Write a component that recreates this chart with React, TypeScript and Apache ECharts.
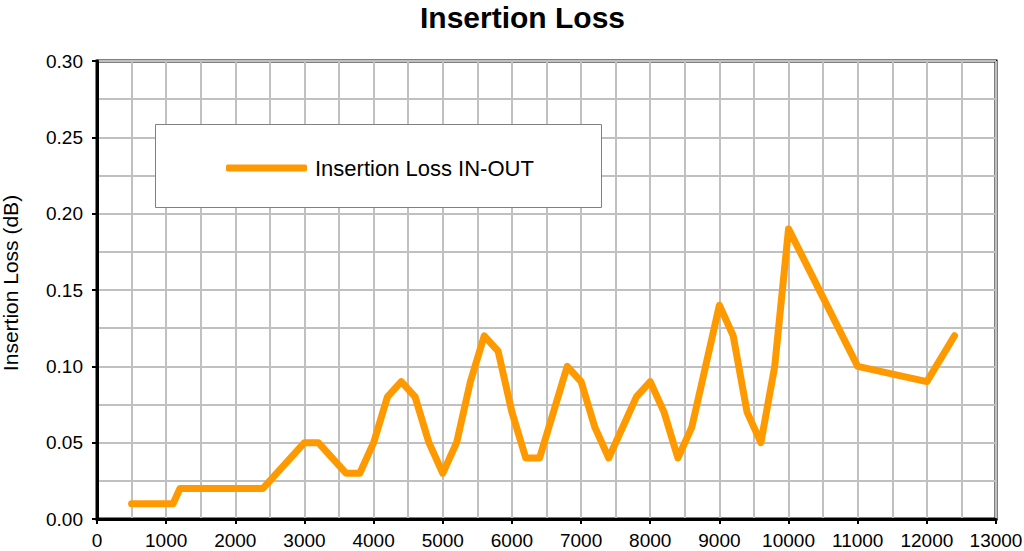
import React, { useEffect, useRef } from "react";
import * as echarts from "echarts";

// Frequency (x) and insertion loss (dB)
const frequencies: number[] = [
  500, 1100, 1200, 2400, 3000, 3200, 3600, 3800, 4000, 4200, 4400, 4600, 4800,
  5000, 5200, 5400, 5600, 5800, 6000, 6200, 6400, 6800, 7000, 7200, 7400, 7800,
  8000, 8200, 8400, 8600, 9000, 9200, 9400, 9600, 9800, 10000, 11000, 12000, 12400,
];
const lossValues: number[] = [
  0.01, 0.01, 0.02, 0.02, 0.05, 0.05, 0.03, 0.03, 0.05, 0.08, 0.09, 0.08, 0.05,
  0.03, 0.05, 0.09, 0.12, 0.11, 0.07, 0.04, 0.04, 0.1, 0.09, 0.06, 0.04, 0.08,
  0.09, 0.07, 0.04, 0.06, 0.14, 0.12, 0.07, 0.05, 0.1, 0.19, 0.1, 0.09, 0.12,
];
const seriesName = "Insertion Loss IN-OUT";

const FONT = "Liberation Sans, Arial, sans-serif";

const App: React.FC = () => {
  const chartRef = useRef<HTMLDivElement | null>(null);

  useEffect(() => {
    const chartDom = chartRef.current;
    if (!chartDom) return;
    const myChart = echarts.init(chartDom, undefined, { renderer: "svg" });

    const gridLine = { show: true, lineStyle: { color: "#c0c0c0", width: 2 } };

    const option = {
      animation: false,
      backgroundColor: "#fff",
      title: {
        text: "Insertion Loss",
        left: 420,
        top: 2,
        padding: 0,
        textStyle: { fontFamily: FONT, fontSize: 30, fontWeight: "bold", color: "#000", lineHeight: 30 },
      },
      grid: {
        left: 97,
        top: 61,
        right: 28,
        bottom: 32,
        outerBoundsMode: "none",
        containLabel: false,
        show: true,
        borderColor: "#000",
        borderWidth: 3,
        backgroundColor: "transparent",
      },
      legend: {
        left: 226,
        top: 157,
        padding: 0,
        z: 10,
        icon: "roundRect",
        itemWidth: 81,
        itemHeight: 7,
        data: [seriesName],
        textStyle: { fontFamily: FONT, fontSize: 22, color: "#000", padding: [0, 0, 0, 3] },
      },
      graphic: [
        {
          type: "rect",
          z: 5,
          shape: { x: 155.5, y: 124.5, width: 446, height: 83 },
          style: { fill: "#fff", stroke: "#808080", lineWidth: 1 },
        },
      ],
      xAxis: {
        type: "value",
        min: 0,
        max: 13000,
        interval: 1000,
        axisLine: { show: true, lineStyle: { color: "#000", width: 3 } },
        axisTick: { show: true, length: 5, lineStyle: { color: "#000", width: 2 } },
        axisLabel: {
          fontFamily: FONT,
          fontSize: 19,
          color: "#000",
          margin: 12,
          formatter: (v: number) => String(v),
        },
        splitLine: gridLine,
        minorTick: { show: false, splitNumber: 2 },
        minorSplitLine: gridLine,
      },
      yAxis: {
        type: "value",
        min: 0,
        max: 0.3,
        interval: 0.05,
        name: "Insertion Loss (dB)",
        nameLocation: "middle",
        nameGap: 76,
        nameTextStyle: { fontFamily: FONT, fontSize: 21, color: "#000", padding: [0, 0, 0, 14] },
        axisLine: { show: true, lineStyle: { color: "#000", width: 3 } },
        axisTick: { show: true, length: 5, lineStyle: { color: "#000", width: 2 } },
        axisLabel: {
          fontFamily: FONT,
          fontSize: 19,
          color: "#000",
          margin: 14,
          formatter: (v: number) => v.toFixed(2),
        },
        splitLine: gridLine,
        minorTick: { show: false, splitNumber: 2 },
        minorSplitLine: gridLine,
      },
      series: [
        {
          name: seriesName,
          type: "line",
          data: frequencies.map((f, i) => [f, lossValues[i]]),
          showSymbol: false,
          symbol: "none",
          lineStyle: { color: "#ff9900", width: 7, join: "round", cap: "round" },
          itemStyle: { color: "#ff9900" },
          z: 3,
        },
      ],
    };

    myChart.setOption(option);
    return () => {
      myChart.dispose();
    };
  }, []);

  return (
    <div
      ref={chartRef}
      style={{ position: "fixed", top: 0, left: 0, width: 1024, height: 551 }}
    />
  );
};

export default App;
